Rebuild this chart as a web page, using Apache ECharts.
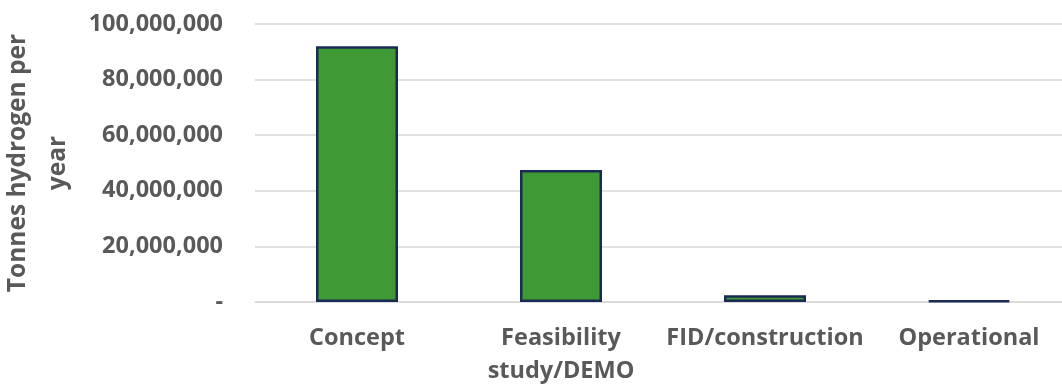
<!DOCTYPE html>
<html>
<head>
<meta charset="utf-8">
<script src="https://cdn.jsdelivr.net/npm/echarts@6/dist/echarts.min.js"></script>
<style>
  html, body { margin: 0; padding: 0; background: #fff; overflow: hidden; }
  #chart { width: 1062px; height: 386px; }
</style>
</head>
<body>
<div id="chart"></div>
<script>
// Project stages and annual hydrogen capacity (tonnes per year)
const categories = ['Concept', 'Feasibility\nstudy/DEMO', 'FID/construction', 'Operational'];
const capacity = [92000000, 47500000, 2400000, 500000];
const yTicks = { min: 0, max: 100000000, interval: 20000000 };
const yAxisTitle = 'Tonnes hydrogen per\nyear';

const labelFont = '"Open Sans", "DejaVu Sans", sans-serif';
const textColor = '#595959';

const chart = echarts.init(document.getElementById('chart'), null, { renderer: 'canvas' });
chart.setOption({
  animation: false,
  // the plot runs a little past the right edge of the canvas
  grid: { left: 255, top: 24, width: 816, height: 278, containLabel: false, outerBoundsMode: 'none' },
  xAxis: {
    type: 'category',
    data: categories,
    axisLine: { show: true, lineStyle: { color: '#d9d9d9', width: 1.5 } },
    axisTick: { show: false },
    axisLabel: {
      color: textColor, fontFamily: labelFont, fontWeight: 'bold', fontSize: 23.5,
      margin: 20, lineHeight: 33, interval: 0
    }
  },
  yAxis: {
    type: 'value',
    min: yTicks.min, max: yTicks.max, interval: yTicks.interval,
    name: yAxisTitle,
    nameLocation: 'middle',
    nameGap: 173,
    nameRotate: 90,
    nameTextStyle: {
      color: textColor, fontFamily: labelFont, fontWeight: 'bold', fontSize: 24.5, lineHeight: 40
    },
    axisLine: { show: false },
    axisTick: { show: false },
    splitLine: { lineStyle: { color: '#d9d9d9', width: 1.5 } },
    axisLabel: {
      color: textColor, fontFamily: labelFont, fontWeight: 'bold', fontSize: 23.5, margin: 32,
      formatter: v => v === 0 ? '-' : v.toLocaleString('en-US')
    }
  },
  series: [{
    type: 'bar',
    data: capacity,
    barWidth: 82,
    itemStyle: { color: '#3f9a35', borderColor: '#1b2a55', borderWidth: 2.5 }
  }]
});
</script>
</body>
</html>
